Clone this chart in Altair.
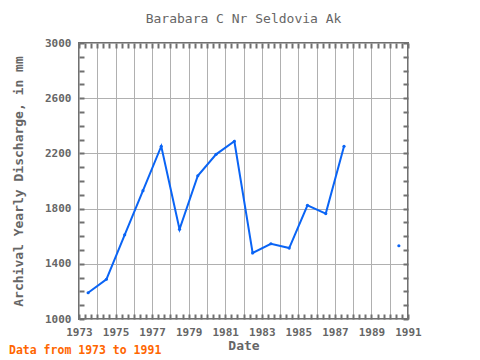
import altair as alt
import pandas as pd

years = [1973.5, 1974.5, 1975.5, 1976.5, 1977.5, 1978.5, 1979.5, 1980.5, 1981.5,
         1982.5, 1983.5, 1984.5, 1985.5, 1986.5, 1987.5, 1988.5, 1989.5, 1990.5]
discharge = [1190, 1288, 1610, 1930, 2252, 1650, 2038, 2193, 2288,
             1479, 1545, 1514, 1824, 1764, 2252, None, None, 1531]

title_text = "Barabara C Nr Seldovia Ak"
x_title = "Date"
y_title = "Archival Yearly Discharge, in mm"
footer_text = "Data from 1973 to 1991"

x_domain = [1973, 1991]
y_domain = [1000, 3000]
year_ticks = list(range(1973, 1992))
x_minor = [1973 + k / 3 for k in range(0, 55)]
y_major = list(range(1000, 3001, 400))
y_minor = list(range(1000, 3001, 100))

df = pd.DataFrame({"year": years, "q": discharge})

FONT = "DejaVu Sans Mono"
GRAY = "#666666"
LINE = "#0a64f5"

xs = alt.Scale(domain=x_domain, nice=False, zero=False)
ys = alt.Scale(domain=y_domain, nice=False, zero=False)

base = alt.Chart(df)

line = base.mark_line(color=LINE, strokeWidth=2, invalid="break-paths-show-domains").encode(
    x=alt.X("year:Q", scale=xs, title=x_title,
            axis=alt.Axis(values=year_ticks, format="d",
                          labelExpr="(datum.value - 1973) % 2 == 0 ? datum.label : ''",
                          ticks=False, domain=False, grid=True, gridColor="#b0b0b0",
                          gridWidth=1, labelPadding=7, titlePadding=2, labelFlush=False,
                          labelFont=FONT, labelFontSize=11, labelColor=GRAY, labelFontWeight="bold",
                          titleFont=FONT, titleFontSize=13, titleColor=GRAY, titleFontWeight="bold",
                          labelOverlap=False)),
    y=alt.Y("q:Q", scale=ys, title=y_title,
            axis=alt.Axis(values=y_major, format="d", ticks=False, domain=False, grid=True,
                          gridColor="#b0b0b0", gridWidth=1, labelPadding=8, titlePadding=19,
                          labelFlush=False,
                          labelFont=FONT, labelFontSize=11, labelColor=GRAY, labelFontWeight="bold",
                          titleFont=FONT, titleFontSize=13, titleColor=GRAY, titleFontWeight="bold",
                          labelOverlap=False)),
)

pts = base.mark_point(filled=True, size=10, color=LINE, opacity=1).encode(
    x=alt.X("year:Q", scale=xs, axis=None),
    y=alt.Y("q:Q", scale=ys, axis=None),
)


def tick_layer(orient, vals, chan):
    ax = alt.Axis(orient=orient, values=vals, tickSize=5, offset=-5, labels=False,
                  domain=False, grid=False, tickColor="#707070", tickWidth=2, title=None)
    if chan == "x":
        return base.mark_point(opacity=0).encode(
            x=alt.X("year:Q", scale=xs, axis=ax),
            y=alt.Y("q:Q", scale=ys, axis=None))
    return base.mark_point(opacity=0).encode(
        x=alt.X("year:Q", scale=xs, axis=None),
        y=alt.Y("q:Q", scale=ys, axis=ax))


footer = alt.Chart(pd.DataFrame({"t": [footer_text]})).mark_text(
    align="left", baseline="alphabetic", font=FONT, fontSize=11.5, fontWeight="bold",
    color="#ff6600").encode(x=alt.value(-70), y=alt.value(311), text="t:N")

chart = alt.layer(
    line, pts,
    tick_layer("top", x_minor, "x"),
    tick_layer("bottom", x_minor, "x"),
    tick_layer("left", y_minor, "y"),
    tick_layer("right", y_minor, "y"),
    footer,
).resolve_axis(x="independent", y="independent").properties(
    width=329, height=276,
    title=alt.Title(title_text, font=FONT, fontSize=13, color=GRAY, fontWeight="normal",
                    anchor="middle", offset=11),
    autosize=alt.AutoSizeParams(type="none"),
    padding={"left": 71, "top": 35, "right": 64, "bottom": 41},
).configure_view(stroke="#707070", strokeWidth=2)

chart.save("out.html", embed_options={"renderer": "svg", "actions": False})
